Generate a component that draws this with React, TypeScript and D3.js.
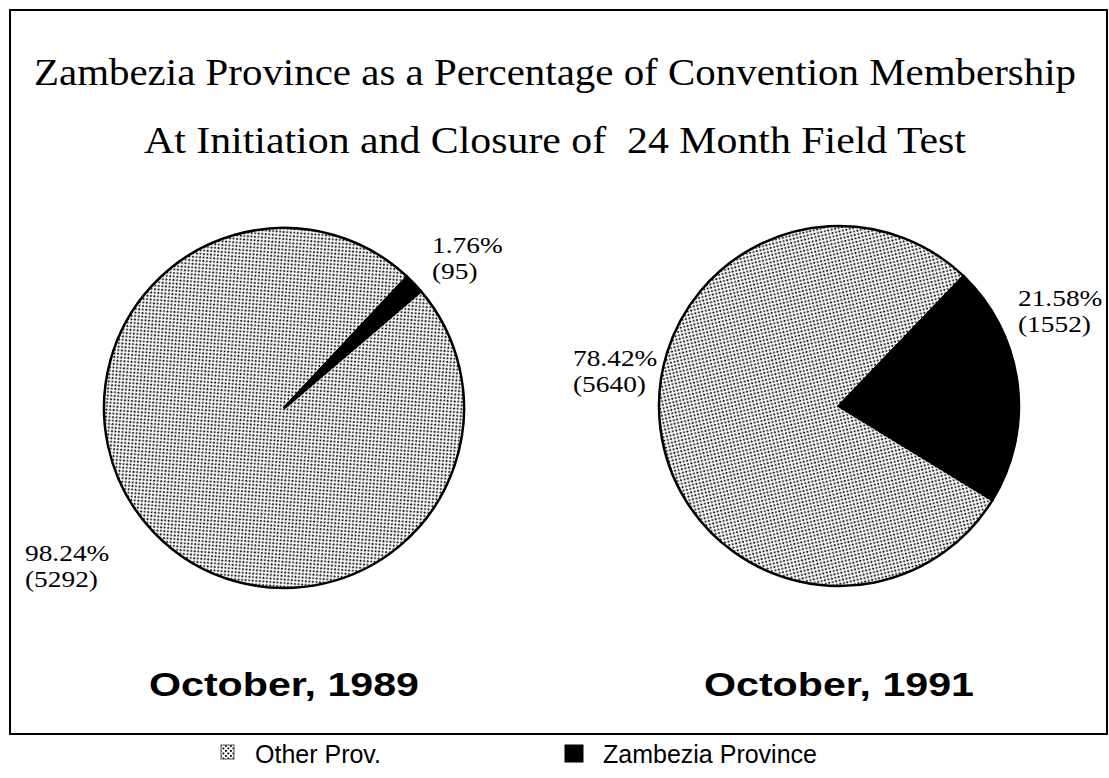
import React, { useEffect, useRef } from 'react';
import * as d3 from 'd3';

const categories = ['Other Prov.', 'Zambezia Province'];
const values1989 = [5292, 95];
const values1991 = [5640, 1552];
const percents1989 = ['98.24%', '1.76%'];
const percents1991 = ['78.42%', '21.58%'];
const pieTitles = ['October, 1989', 'October, 1991'];
const titleLines = [
  'Zambezia Province as a Percentage of Convention Membership',
  'At Initiation and Closure of  24 Month Field Test',
];

function App() {
  const ref = useRef<SVGSVGElement>(null);

  useEffect(() => {
    const svg = d3.select(ref.current);
    svg.selectAll('*').remove();

    const defs = svg.append('defs');
    const pat = defs.append('pattern')
      .attr('id', 'stipple')
      .attr('patternUnits', 'userSpaceOnUse')
      .attr('width', 5)
      .attr('height', 5);
    pat.append('rect').attr('width', 5).attr('height', 5).attr('fill', '#fff');
    pat.append('rect').attr('x', 0).attr('y', 0).attr('width', 1.8).attr('height', 1.8).attr('fill', '#000');
    pat.append('rect').attr('x', 2.5).attr('y', 2.5).attr('width', 1.8).attr('height', 1.8).attr('fill', '#000');

    const fills = ['url(#stipple)', '#000'];

    // frame
    svg.append('rect')
      .attr('x', 10).attr('y', 10)
      .attr('width', 1097).attr('height', 724)
      .attr('fill', 'none').attr('stroke', '#000').attr('stroke-width', 2);

    const serif = '"Liberation Serif", "Times New Roman", serif';
    const sans = '"Liberation Sans", Arial, sans-serif';

    const titleY = [85, 153];
    const titleW = [1042, 822];
    titleLines.forEach((t, i) => {
      svg.append('text')
        .attr('x', 555).attr('y', titleY[i])
        .attr('text-anchor', 'middle')
        .attr('font-family', serif)
        .attr('font-size', 37)
        .attr('textLength', titleW[i])
        .attr('lengthAdjust', 'spacingAndGlyphs')
        .style('white-space', 'pre')
        .text(t);
    });

    const pie = d3.pie<number>().sort(null)
      .startAngle(0).endAngle(2 * Math.PI);
    const radius = 180;
    const arc = d3.arc<d3.PieArcDatum<number>>().innerRadius(0).outerRadius(radius);

    const pies = [
      { cx: 284, cy: 408, values: values1989, pct: percents1989, rot: 49.5,
        labels: [{ x: 25, y: 561 }, { x: 432, y: 253 }] },
      { cx: 839, cy: 406, values: values1991, pct: percents1991, rot: 121.5,
        labels: [{ x: 573, y: 366 }, { x: 1018, y: 306 }] },
    ];

    pies.forEach((p, pi) => {
      // rotate so the Zambezia slice ends at the given angle (clockwise from north)
      const g = svg.append('g')
        .attr('transform', `translate(${p.cx},${p.cy}) rotate(${p.rot})`);
      const arcs = pie(p.values);
      g.selectAll('path')
        .data(arcs)
        .join('path')
        .attr('d', arc)
        .attr('fill', (_, i) => fills[i])
        .attr('stroke', '#000')
        .attr('stroke-width', 2.5);

      p.labels.forEach((l, i) => {
        [p.pct[i], `(${p.values[i]})`].forEach((s, k) => {
          const t = svg.append('text')
            .attr('x', l.x).attr('y', l.y + k * 26)
            .attr('font-family', serif)
            .attr('font-size', 24)
            .text(s);
          const node = t.node() as SVGTextElement;
          const w = node.getComputedTextLength();
          t.attr('textLength', w * 1.14).attr('lengthAdjust', 'spacingAndGlyphs');
        });
      });

      svg.append('text')
        .attr('x', p.cx).attr('y', 696)
        .attr('text-anchor', 'middle')
        .attr('font-family', sans)
        .attr('font-weight', 'bold')
        .attr('font-size', 34)
        .attr('textLength', 270)
        .attr('lengthAdjust', 'spacingAndGlyphs')
        .text(pieTitles[pi]);
    });

    // legend
    const legend = [
      { x: 221, tx: 255 },
      { x: 565, tx: 603 },
    ];
    legend.forEach((l, i) => {
      svg.append('rect')
        .attr('x', l.x).attr('y', 745)
        .attr('width', i === 0 ? 13 : 18).attr('height', i === 0 ? 14 : 17)
        .attr('fill', fills[i])
        .attr('stroke', i === 0 ? '#555' : '#000')
        .attr('stroke-width', 1);
      svg.append('text')
        .attr('x', l.tx).attr('y', 763)
        .attr('font-family', sans)
        .attr('font-size', 25)
        .text(categories[i]);
    });
  }, []);

  return (
    <svg ref={ref} width={1109} height={778}
      style={{ position: 'absolute', left: 0, top: 0, background: '#fff' }} />
  );
}

export default App;
